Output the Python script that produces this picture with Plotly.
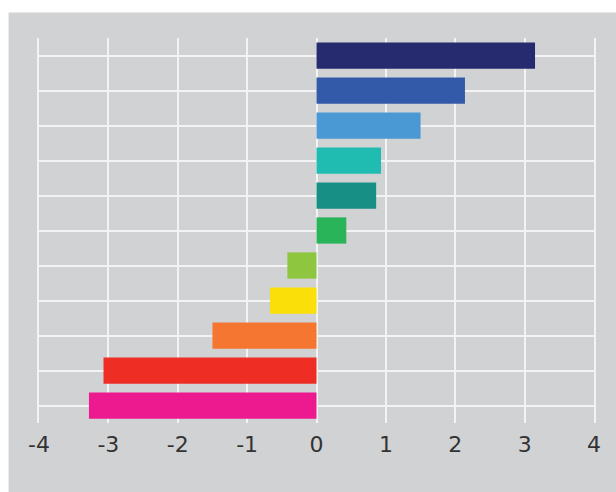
import plotly.graph_objects as go

# Eleven items, top to bottom
items = ["A", "B", "C", "D", "E", "F", "G", "H", "I", "J", "K"]
values = [3.15, 2.14, 1.50, 0.93, 0.86, 0.43, -0.42, -0.67, -1.50, -3.07, -3.28]
colors = ["#262a6f", "#325aa8", "#4a98d4", "#20bcb1", "#178f85", "#2ab45a",
          "#8fc640", "#fadf08", "#f47631", "#ee2d25", "#ed198f"]
x_ticks = [-4, -3, -2, -1, 0, 1, 2, 3, 4]

BG = "#d1d2d4"
GRID = "#f3f3f3"

fig = go.Figure(
    go.Bar(
        x=values,
        y=items,
        orientation="h",
        marker=dict(color=colors, line=dict(width=0)),
        hoverinfo="x",
    )
)

fig.update_layout(
    width=616,
    height=492,
    margin=dict(l=38.5, r=21.5, t=37.5, b=68.5),
    paper_bgcolor="white",
    plot_bgcolor=BG,
    bargap=0.25,
    showlegend=False,
    font=dict(family="DejaVu Sans", size=22, color="#333333"),
    shapes=[
        # grey panel behind the whole chart, leaving a thin white border top/left
        dict(type="rect", xref="paper", yref="paper",
             x0=(8 - 38.5) / 556, x1=1.2,
             y0=-0.3, y1=(423.5 - 12) / 386,
             fillcolor=BG, line=dict(width=0), layer="below"),
    ],
)

fig.update_xaxes(
    range=[-4, 4],
    tickvals=x_ticks,
    ticktext=[str(v) for v in x_ticks],
    showgrid=True,
    gridcolor=GRID,
    gridwidth=1.5,
    zeroline=False,
    showline=False,
    ticks="",
    ticklabelstandoff=6,
    tickfont=dict(size=22, color="#333333"),
    fixedrange=True,
)

fig.update_yaxes(
    type="category",
    categoryorder="array",
    categoryarray=items,
    autorange="reversed",
    showticklabels=False,
    showgrid=True,
    gridcolor=GRID,
    gridwidth=1.5,
    zeroline=False,
    # edge lines at x = -4 and x = 4
    showline=True,
    mirror=True,
    linecolor=GRID,
    linewidth=1.5,
    ticks="",
    fixedrange=True,
)

fig.write_html("out.html", config={"displayModeBar": False})
